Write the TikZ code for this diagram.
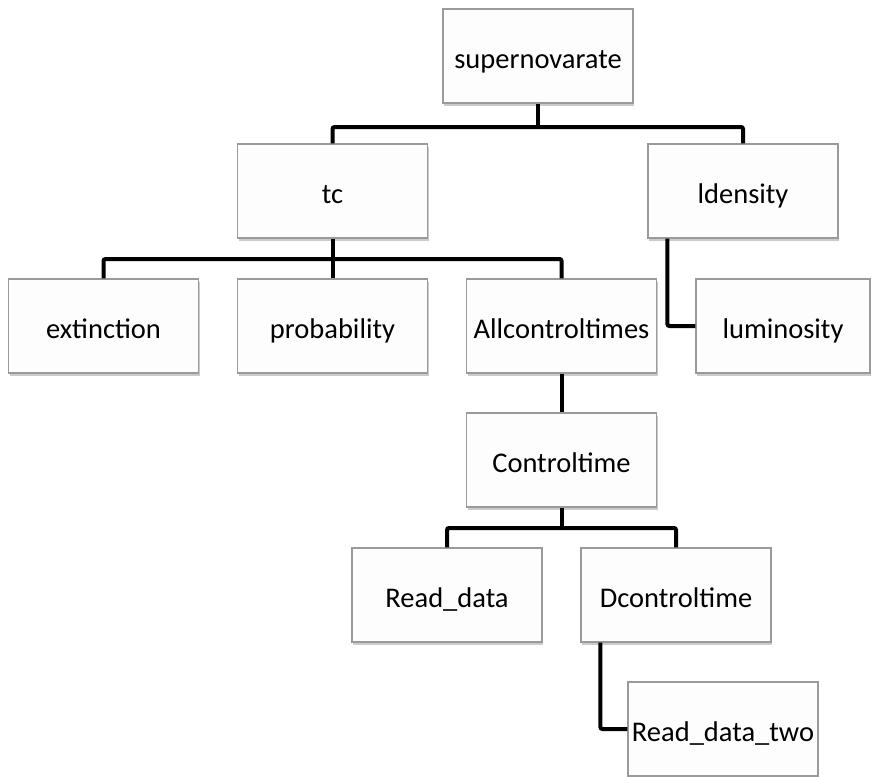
\documentclass[tikz,border=0pt]{standalone}
\usepackage{fontspec}
\setmainfont{Carlito}
\usepackage{tikz}
\usetikzlibrary{shadows}
\usepackage{xcolor}
\definecolor{boxline}{HTML}{9A9A9A}
\definecolor{boxfill}{HTML}{FDFDFD}

\begin{document}
\begin{tikzpicture}[x=1pt,y=-1pt,
    box/.style={draw=boxline, line width=1.2pt, fill=boxfill, minimum width=190pt, minimum height=94pt,
        inner sep=0pt, text height=26pt, text depth=2pt, font=\fontsize{28.5}{32}\selectfont,
        drop shadow={shadow xshift=1pt, shadow yshift=-3pt, fill=black!45, opacity=.45}},
    link/.style={line width=4pt, black, rounded corners=2pt}]
        % Frame
        \useasboundingbox (0,0) rectangle (877,776);

        % Top level
        \node[box] (super) at (538,56) {supernovarate};

        % Second level
        \node[box] (tc) at (332.5,191) {tc};
        \node[box] (ldensity) at (743,191) {ldensity};

        % Third level
        \node[box] (extinction) at (103.5,326) {extinction};
        \node[box] (probability) at (332.5,326) {probability};
        \node[box] (allct) at (561.5,326) {Allcontroltimes};
        \node[box, minimum width=174pt] (lum) at (783,326) {luminosity};

        % Lower levels
        \node[box] (ctime) at (561.5,460) {Controltime};
        \node[box] (readdata) at (447,595) {Read\_data};
        \node[box] (dct) at (676,595) {Dcontroltime};
        \node[box] (rdtwo) at (723,729) {Read\_data\_two};

        % Branch points
        \coordinate (bar1) at (538,127);
        \coordinate (bar2) at (332.5,259);
        \coordinate (bar3) at (561.5,528);

        % Connectors
        \draw[link] (super.south) -- (bar1);
        \draw[link] (tc.north) |- (bar1) -| (ldensity.north);
        \draw[link] (tc.south) -- (bar2);
        \draw[link] (extinction.north) |- (bar2) -| (allct.north);
        \draw[link] (probability.north) -- (bar2);
        \draw[link] ([xshift=20pt]ldensity.south west) |- (lum.west);
        \draw[link] (allct.south) -- (ctime.north);
        \draw[link] (ctime.south) -- (bar3);
        \draw[link] (readdata.north) |- (bar3) -| (dct.north);
        \draw[link] ([xshift=20pt]dct.south west) |- (rdtwo.west);
    \end{tikzpicture}
\end{document}
